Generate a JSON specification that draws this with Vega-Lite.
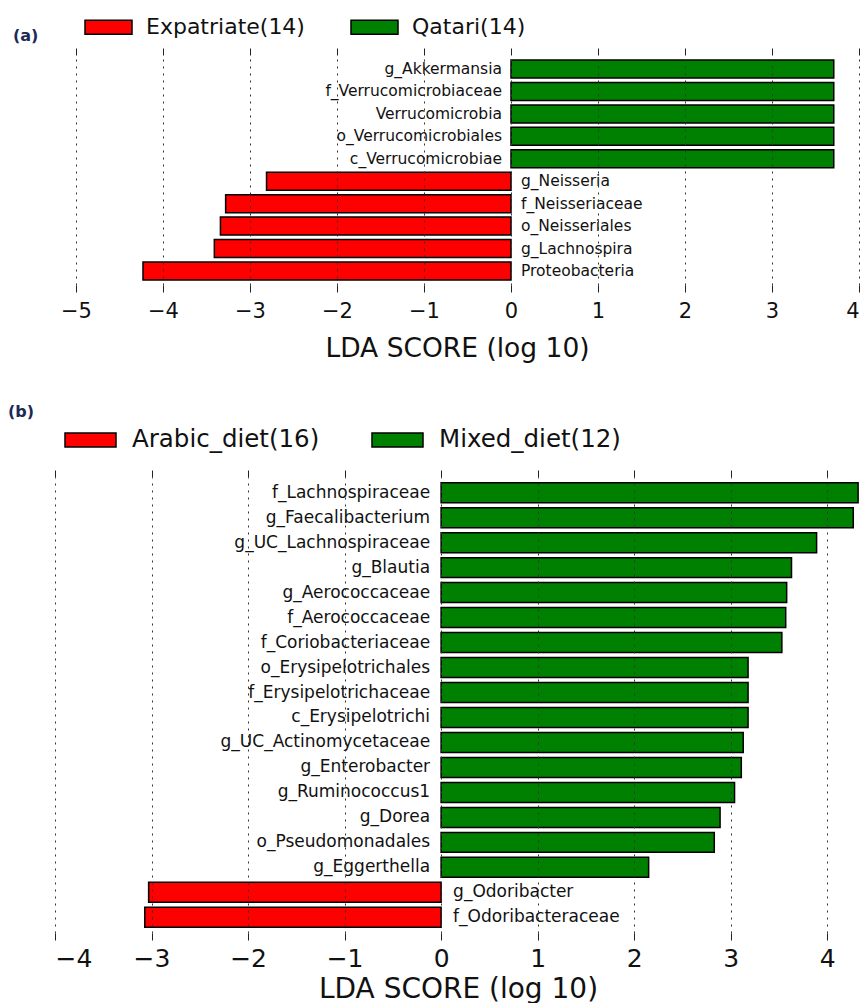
{
  "$schema": "https://vega.github.io/schema/vega-lite/v6.json",
  "padding": {"left": 8, "top": 2, "right": 0, "bottom": 0},
  "background": "white",
  "config": {
    "view": {"stroke": null},
    "font": "DejaVu Sans",
    "axis": {"domain": false, "tickColor": "#222", "tickSize": 7, "tickWidth": 1, "labelColor": "#111", "titleColor": "#111", "titleFontWeight": "normal"},
    "legend": {"padding": 0, "labelLimit": 400}
  },
  "spacing": 41,
  "resolve": {"scale": {"x": "independent", "y": "independent", "color": "independent"}, "legend": {"color": "independent"}},
  "vconcat": [
    {
      "width": 804,
      "height": 230,
      "title": {"text": "(a)", "anchor": "start", "frame": "group", "dx": -42, "dy": 41.5, "offset": 0, "fontSize": 16, "fontWeight": "bold", "color": "#1c2a55", "font": "DejaVu Sans"},
      "data": {"values": [
        {"taxon": "g_Akkermansia", "lda": 3.71, "group": "Qatari(14)"},
        {"taxon": "f_Verrucomicrobiaceae", "lda": 3.71, "group": "Qatari(14)"},
        {"taxon": "Verrucomicrobia", "lda": 3.71, "group": "Qatari(14)"},
        {"taxon": "o_Verrucomicrobiales", "lda": 3.71, "group": "Qatari(14)"},
        {"taxon": "c_Verrucomicrobiae", "lda": 3.71, "group": "Qatari(14)"},
        {"taxon": "g_Neisseria", "lda": -2.81, "group": "Expatriate(14)"},
        {"taxon": "f_Neisseriaceae", "lda": -3.28, "group": "Expatriate(14)"},
        {"taxon": "o_Neisseriales", "lda": -3.34, "group": "Expatriate(14)"},
        {"taxon": "g_Lachnospira", "lda": -3.41, "group": "Expatriate(14)"},
        {"taxon": "Proteobacteria", "lda": -4.23, "group": "Expatriate(14)"}
      ]},
      "resolve": {"axis": {"x": "independent"}},
      "layer": [
        {
          "mark": {"type": "bar", "stroke": "black", "strokeWidth": 1.5},
          "encoding": {
            "y": {"field": "taxon", "type": "nominal", "sort": null, "axis": null, "scale": {"paddingInner": 0.2, "paddingOuter": 0.225}},
            "x": {"field": "lda", "type": "quantitative", "scale": {"domain": [-5.2414, 4], "nice": false, "zero": false},
              "axis": {"orient": "bottom", "values": [-5, -4, -3, -2, -1, 0, 1, 2, 3, 4], "title": "LDA SCORE (log 10)", "labelFontSize": 21, "titleFontSize": 26.5, "labelPadding": 8, "titlePadding": 14, "grid": true, "gridColor": "#333", "gridDash": [2, 5], "gridWidth": 1, "zindex": 1}},
            "color": {"field": "group", "type": "nominal", "scale": {"domain": ["Expatriate(14)", "Qatari(14)"], "range": ["#ff0000", "#008000"]},
              "legend": {"orient": "none", "legendX": 29, "legendY": -52.5, "direction": "horizontal", "title": null, "symbolType": "M-1,-0.298L1,-0.298L1,0.298L-1,0.298Z", "symbolSize": 2209, "symbolStrokeColor": "black", "symbolStrokeWidth": 1.5, "symbolOpacity": 1, "labelFontSize": 22, "labelOffset": 13, "columnPadding": 43, "labelColor": "#111"}}
          }
        },
        {
          "transform": [{"filter": "datum.lda > 0"}],
          "mark": {"type": "text", "align": "right", "baseline": "middle", "dx": -9, "fontSize": 15.5, "color": "#111"},
          "encoding": {
            "y": {"field": "taxon", "type": "nominal", "sort": null},
            "x": {"datum": 0, "type": "quantitative", "axis": null},
            "text": {"field": "taxon"}
          }
        },
        {
          "transform": [{"filter": "datum.lda < 0"}],
          "mark": {"type": "text", "align": "left", "baseline": "middle", "dx": 10, "fontSize": 15.5, "color": "#111"},
          "encoding": {
            "y": {"field": "taxon", "type": "nominal", "sort": null},
            "x": {"datum": 0, "type": "quantitative", "axis": null},
            "text": {"field": "taxon"}
          }
        },
        {
          "mark": {"type": "point", "opacity": 0},
          "encoding": {
            "y": {"field": "taxon", "type": "nominal", "sort": null},
            "x": {"field": "lda", "type": "quantitative", "axis": {"orient": "top", "values": [-5, -4, -3, -2, -1, 0, 1, 2, 3, 4], "labels": false, "title": null, "grid": false}}
          }
        }
      ]
    },
    {
      "width": 806,
      "height": 456,
      "title": {"text": "(b)", "anchor": "start", "frame": "group", "dx": -47, "dy": 6, "offset": 0, "fontSize": 16, "fontWeight": "bold", "color": "#1c2a55", "font": "DejaVu Sans"},
      "data": {"values": [
        {"taxon": "f_Lachnospiraceae", "lda": 4.32, "group": "Mixed_diet(12)"},
        {"taxon": "g_Faecalibacterium", "lda": 4.27, "group": "Mixed_diet(12)"},
        {"taxon": "g_UC_Lachnospiraceae", "lda": 3.89, "group": "Mixed_diet(12)"},
        {"taxon": "g_Blautia", "lda": 3.63, "group": "Mixed_diet(12)"},
        {"taxon": "g_Aerococcaceae", "lda": 3.58, "group": "Mixed_diet(12)"},
        {"taxon": "f_Aerococcaceae", "lda": 3.57, "group": "Mixed_diet(12)"},
        {"taxon": "f_Coriobacteriaceae", "lda": 3.53, "group": "Mixed_diet(12)"},
        {"taxon": "o_Erysipelotrichales", "lda": 3.18, "group": "Mixed_diet(12)"},
        {"taxon": "f_Erysipelotrichaceae", "lda": 3.18, "group": "Mixed_diet(12)"},
        {"taxon": "c_Erysipelotrichi", "lda": 3.18, "group": "Mixed_diet(12)"},
        {"taxon": "g_UC_Actinomycetaceae", "lda": 3.13, "group": "Mixed_diet(12)"},
        {"taxon": "g_Enterobacter", "lda": 3.11, "group": "Mixed_diet(12)"},
        {"taxon": "g_Ruminococcus1", "lda": 3.04, "group": "Mixed_diet(12)"},
        {"taxon": "g_Dorea", "lda": 2.89, "group": "Mixed_diet(12)"},
        {"taxon": "o_Pseudomonadales", "lda": 2.83, "group": "Mixed_diet(12)"},
        {"taxon": "g_Eggerthella", "lda": 2.15, "group": "Mixed_diet(12)"},
        {"taxon": "g_Odoribacter", "lda": -3.03, "group": "Arabic_diet(16)"},
        {"taxon": "f_Odoribacteraceae", "lda": -3.07, "group": "Arabic_diet(16)"}
      ]},
      "resolve": {"axis": {"x": "independent"}},
      "layer": [
        {
          "mark": {"type": "bar", "stroke": "black", "strokeWidth": 1.5},
          "encoding": {
            "y": {"field": "taxon", "type": "nominal", "sort": null, "axis": null, "scale": {"paddingInner": 0.2, "paddingOuter": 0.228}},
            "x": {"field": "lda", "type": "quantitative", "scale": {"domain": [-4, 4.35], "nice": false, "zero": false},
              "axis": {"orient": "bottom", "values": [-4, -3, -2, -1, 0, 1, 2, 3, 4], "title": "LDA SCORE (log 10)", "labelFontSize": 25, "titleFontSize": 28, "labelPadding": 6, "titlePadding": 4, "grid": true, "gridColor": "#333", "gridDash": [2, 5], "gridWidth": 1, "zindex": 1}},
            "color": {"field": "group", "type": "nominal", "scale": {"domain": ["Arabic_diet(16)", "Mixed_diet(12)"], "range": ["#ff0000", "#008000"]},
              "legend": {"orient": "none", "legendX": 9, "legendY": -63.5, "direction": "horizontal", "title": null, "symbolType": "M-1,-0.2745L1,-0.2745L1,0.2745L-1,0.2745Z", "symbolSize": 2601, "symbolStrokeColor": "black", "symbolStrokeWidth": 1.5, "symbolOpacity": 1, "labelFontSize": 24.5, "labelOffset": 15, "columnPadding": 49, "labelColor": "#111"}}
          }
        },
        {
          "transform": [{"filter": "datum.lda > 0"}],
          "mark": {"type": "text", "align": "right", "baseline": "middle", "dx": -11, "fontSize": 17, "color": "#111"},
          "encoding": {
            "y": {"field": "taxon", "type": "nominal", "sort": null},
            "x": {"datum": 0, "type": "quantitative", "axis": null},
            "text": {"field": "taxon"}
          }
        },
        {
          "transform": [{"filter": "datum.lda < 0"}],
          "mark": {"type": "text", "align": "left", "baseline": "middle", "dx": 12, "fontSize": 17, "color": "#111"},
          "encoding": {
            "y": {"field": "taxon", "type": "nominal", "sort": null},
            "x": {"datum": 0, "type": "quantitative", "axis": null},
            "text": {"field": "taxon"}
          }
        },
        {
          "mark": {"type": "point", "opacity": 0},
          "encoding": {
            "y": {"field": "taxon", "type": "nominal", "sort": null},
            "x": {"field": "lda", "type": "quantitative", "axis": {"orient": "top", "values": [-4, -3, -2, -1, 0, 1, 2, 3, 4], "labels": false, "title": null, "grid": false}}
          }
        }
      ]
    }
  ]
}
